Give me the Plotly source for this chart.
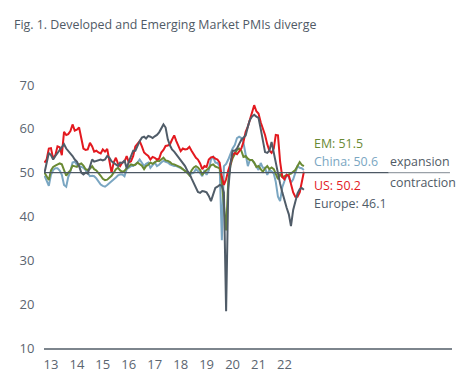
import pandas as pd
import plotly.graph_objects as go

# Monthly PMI readings, Apr 2013 - Apr 2023 (estimated from chart)
months = pd.date_range("2013-04-01", periods=121, freq="MS")

us = [52.3, 53, 55.5, 55.6, 53.2, 54, 56, 55.8, 54, 59.3,
      58.6, 58.8, 59.5, 61, 59.6, 59.8, 60.3, 58, 55.5, 55.2,
      55.3, 56.8, 56, 54.8, 55, 54.6, 54.4, 55.3, 54.8, 55.4,
      53, 50, 52.3, 53.4, 52, 51.5, 52.3, 52.5, 53.8, 52.3,
      52.6, 53.8, 56, 56.5, 57.2, 56, 54.6, 54.2, 53.8, 53,
      53.6, 53.4, 53, 53.2, 54.6, 55.2, 56.1, 56.2, 56.5, 57.5,
      58.5, 57.2, 56, 54.9, 55.5, 55.3, 55.4, 55.9, 55, 54.2,
      53.4, 53, 52.1, 50.8, 51.5, 51.3, 53, 53.5, 53.6, 53.2,
      53, 52.3, 49, 47.2, 48.5, 50.5, 52, 54, 54.5, 54.2,
      55, 55.5, 57, 59.3, 60.5, 62, 64, 65.4, 64, 63.5,
      61.5, 60, 58.6, 56.5, 55, 54.5, 55.5, 58.6, 58.5, 52.5,
      49, 48.5, 49.5, 49.3, 47.5, 45.5, 44.5, 44.5, 45.5, 48, 50.2]

europe = [50, 52, 54.5, 54, 53, 53.8, 54.5, 55.3, 56, 56.5,
          55.5, 55, 54.2, 53.8, 53, 52.5, 51.5, 50, 49.6, 50,
          49.8, 51.5, 53, 52.5, 52.7, 52.8, 53, 52.8, 53, 53.8,
          53.4, 52.6, 52.3, 51.8, 51.5, 52.3, 52.2, 52.8, 51, 52.5,
          53.8, 55, 55, 56.3, 57.2, 58, 58.2, 57.8, 58.4, 58.2,
          57.9, 58.3, 58.6, 59.2, 60, 61, 60.3, 57.6, 56.2, 55.3,
          54.8, 54.2, 53.5, 52.8, 52.3, 51.5, 50.5, 49.8, 48.7, 47.5,
          46.6, 45.6, 45.4, 45.8, 45.7, 45.5, 44.7, 43.5, 45, 46.5,
          46.8, 47.2, 47, 45.5, 18.4, 46, 52, 55, 55, 55.5,
          56.5, 57.5, 58, 58.5, 60.5, 62, 62.8, 63.2, 62.8, 62.5,
          60, 57.5, 54.7, 54.5, 55, 57, 54.5, 52, 49.5, 47.5,
          45.5, 43.5, 42, 40.5, 37.8, 41.5, 43.5, 45.3, 46.2, 46.5, 46.1]

em = [50, 49.3, 48.3, 50.5, 51.3, 51.6, 51.9, 52.1, 51.9, 50.8,
      49.3, 50, 50.5, 51.6, 51.5, 51.3, 51.9, 52.1, 51.6, 50.8,
      50.6, 50.9, 51.5, 50.8, 50.5, 50, 49.3, 48.6, 48.3, 48.4,
      48.8, 49.3, 50, 50.8, 51.1, 50.5, 50.2, 50.4, 51, 51.5,
      51.9, 51.7, 51.8, 52.3, 52, 51.6, 50.8, 51.5, 51.8, 52.3,
      52, 52.3, 52.7, 52.6, 53, 53.4, 52.8, 52.7, 52.4, 52,
      51.9, 51.7, 51.5, 51.2, 50.8, 50.4, 50, 49.4, 50.5, 51.2,
      51.5, 51.2, 50.6, 49.6, 50.2, 50.6, 51, 51.7, 51.9, 51.4,
      51.2, 51, 48, 42, 36.8, 48, 51.7, 53.3, 54.3, 55.2,
      55.5, 55, 53.6, 53.8, 53.2, 52.9, 52.9, 52.3, 51.3, 51.5,
      50.8, 50.2, 51, 51.5, 50.8, 51.2, 50.8, 49.5, 48.5, 49.6,
      49, 49.2, 49.5, 49.6, 49.8, 50.3, 50.6, 51.5, 52.4, 51.8, 51.5]

china = [49.3, 48, 47, 49.5, 50.6, 51, 51, 50.5, 49.5, 47.2,
         46.8, 49, 50.3, 52.3, 52.5, 51.8, 51.5, 51.3, 51.1, 50.6,
         50, 49.2, 49.3, 49.2, 48.7, 48, 47.3, 47, 46.8, 47.2,
         47.6, 47.9, 48.3, 48.9, 49.4, 49.6, 49.6, 49.2, 50.8, 51.2,
         51.5, 51.5, 51.9, 52.3, 53, 52.2, 51.5, 52, 52.3, 51.1,
         51.7, 52.3, 51.5, 51.8, 52.3, 52.7, 52.5, 52.3, 51.9, 51.7,
         51.5, 51.5, 51.3, 51.1, 50.8, 50.4, 50, 49.6, 49.8, 50,
         50.8, 50.4, 49.9, 49.2, 50.6, 49.5, 50.5, 53, 53.6, 52.3,
         52.2, 51.5, 34.6, 51.5, 52, 53, 54.5, 55.5, 56.3, 57.9,
         58.2, 57.9, 56.8, 54.5, 51.5, 52.9, 52.9, 52.2, 51.5, 50.6,
         52.2, 51.1, 51.1, 49.5, 50.6, 50.3, 49.8, 47.9, 44.5, 43.5,
         46.7, 48, 49.5, 49, 47.7, 48.5, 50, 51.5, 51.1, 51, 50.6]

for s in (us, europe, em, china):
    assert len(s) == len(months), len(s)

tick_years = list(range(2013, 2023))
tick_labels = [str(y)[2:] for y in tick_years]
tick_vals = [f"{y}-07-01" for y in tick_years]

series_labels = ["EM: 51.5", "China: 50.6", "US: 50.2", "Europe: 46.1"]

C_US = "#e3191f"
C_EM = "#6a8a33"
C_CN = "#7aa6c2"
C_EU = "#505c68"
C_TXT = "#505a66"
FONT = "Open Sans"
FS = 12.4

# the page body adds an 8px offset; size the figure so the chart lands in place
W, H = 459, 383

fig = go.Figure()
for name, vals, col in [("China", china, C_CN), ("EM", em, C_EM),
                        ("US", us, C_US), ("Europe", europe, C_EU)]:
    fig.add_trace(go.Scatter(x=months, y=vals, mode="lines", name=name,
                             line=dict(color=col, width=2), hoverinfo="skip"))

# 50 line (expansion / contraction divider)
fig.add_shape(type="line", xref="paper", yref="y", x0=0, x1=0.845, y0=50, y1=50,
              line=dict(color="#4d5864", width=1.2))
fig.add_shape(type="line", xref="paper", yref="y", x0=0.845, x1=0.995, y0=50, y1=50,
              line=dict(color="#9aa1a8", width=1.2))

ann = []
for txt, col, yp in zip(series_labels, [C_EM, C_CN, C_US, C_EU],
                        [0.779, 0.711, 0.616, 0.548]):
    ann.append(dict(text=txt, xref="paper", yref="paper", x=0.658, y=yp,
                    xanchor="left", yanchor="middle", showarrow=False,
                    font=dict(family=FONT, size=FS, color=col)))
ann.append(dict(text="expansion", xref="paper", yref="paper", x=0.842, y=0.711,
                xanchor="left", yanchor="middle", showarrow=False,
                font=dict(family=FONT, size=FS, color=C_TXT)))
ann.append(dict(text="contraction", xref="paper", yref="paper", x=0.844, y=0.631,
                xanchor="left", yanchor="middle", showarrow=False,
                font=dict(family=FONT, size=FS, color=C_TXT)))

fig.update_layout(
    width=W, height=H,
    margin=dict(l=32, r=15, t=77, b=43),
    paper_bgcolor="white", plot_bgcolor="white",
    showlegend=False,
    font=dict(family=FONT, size=FS, color=C_TXT),
    title=dict(text="Fig. 1. Developed and Emerging Market PMIs diverge",
               xref="container", yref="container", x=6/W, xanchor="left",
               y=1-17/H, yanchor="middle",
               font=dict(family=FONT, size=FS, color=C_TXT)),
    annotations=ann,
    xaxis=dict(type="date", range=["2013-03-25", "2028-12-15"],
               tickvals=tick_vals, ticktext=tick_labels,
               showgrid=False, zeroline=False, showline=True,
               linecolor="#7d858d", linewidth=1.5,
               ticks="outside", ticklen=4, tickcolor="rgba(0,0,0,0)",
               tickfont=dict(family=FONT, size=13, color="#5b6570")),
    yaxis=dict(range=[10, 70], tickvals=[10, 20, 30, 40, 50, 60, 70],
               showgrid=False, zeroline=False, showline=False,
               ticks="outside", ticklen=6, tickcolor="rgba(0,0,0,0)",
               tickfont=dict(family=FONT, size=13, color="#5b6570")),
)

fig.write_html("out.html")
